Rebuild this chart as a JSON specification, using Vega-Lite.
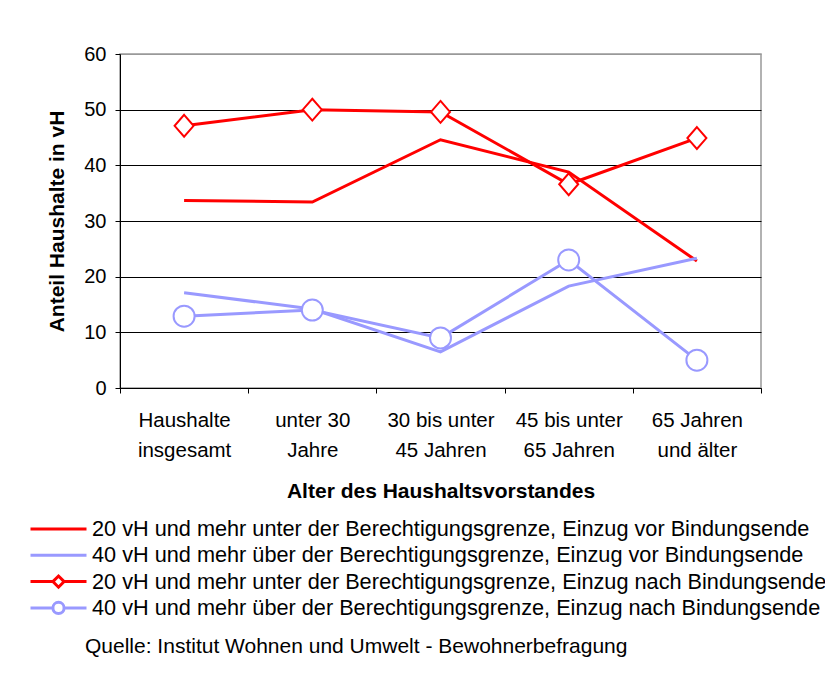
{
  "$schema": "https://vega.github.io/schema/vega-lite/v6.json",
  "width": 641,
  "height": 334,
  "autosize": {"type": "none"},
  "padding": {"left": 120, "top": 54, "right": 64, "bottom": 285},
  "background": "white",
  "config": {
    "font": "Liberation Sans",
    "view": {"stroke": "#999999", "strokeWidth": 1.5}
  },
  "title": {
    "text": "Quelle: Institut Wohnen und Umwelt - Bewohnerbefragung",
    "orient": "bottom",
    "anchor": "start",
    "frame": "group",
    "dx": -35,
    "offset": 16,
    "fontSize": 21,
    "fontWeight": "normal",
    "font": "Liberation Sans",
    "color": "black"
  },
  "data": {
    "values": [
      {"age": "Haushalte insgesamt", "series": "20 vH und mehr unter der Berechtigungsgrenze, Einzug vor Bindungsende", "value": 33.7},
      {"age": "unter 30 Jahre", "series": "20 vH und mehr unter der Berechtigungsgrenze, Einzug vor Bindungsende", "value": 33.4},
      {"age": "30 bis unter 45 Jahren", "series": "20 vH und mehr unter der Berechtigungsgrenze, Einzug vor Bindungsende", "value": 44.6},
      {"age": "45 bis unter 65 Jahren", "series": "20 vH und mehr unter der Berechtigungsgrenze, Einzug vor Bindungsende", "value": 38.8},
      {"age": "65 Jahren und älter", "series": "20 vH und mehr unter der Berechtigungsgrenze, Einzug vor Bindungsende", "value": 22.8},
      {"age": "Haushalte insgesamt", "series": "40 vH und mehr über der Berechtigungsgrenze, Einzug vor Bindungsende", "value": 17.1},
      {"age": "unter 30 Jahre", "series": "40 vH und mehr über der Berechtigungsgrenze, Einzug vor Bindungsende", "value": 14.2},
      {"age": "30 bis unter 45 Jahren", "series": "40 vH und mehr über der Berechtigungsgrenze, Einzug vor Bindungsende", "value": 6.5},
      {"age": "45 bis unter 65 Jahren", "series": "40 vH und mehr über der Berechtigungsgrenze, Einzug vor Bindungsende", "value": 18.3},
      {"age": "65 Jahren und älter", "series": "40 vH und mehr über der Berechtigungsgrenze, Einzug vor Bindungsende", "value": 23.3},
      {"age": "Haushalte insgesamt", "series": "20 vH und mehr unter der Berechtigungsgrenze, Einzug nach Bindungsende", "value": 47.1},
      {"age": "unter 30 Jahre", "series": "20 vH und mehr unter der Berechtigungsgrenze, Einzug nach Bindungsende", "value": 50.0},
      {"age": "30 bis unter 45 Jahren", "series": "20 vH und mehr unter der Berechtigungsgrenze, Einzug nach Bindungsende", "value": 49.6},
      {"age": "45 bis unter 65 Jahren", "series": "20 vH und mehr unter der Berechtigungsgrenze, Einzug nach Bindungsende", "value": 36.6},
      {"age": "65 Jahren und älter", "series": "20 vH und mehr unter der Berechtigungsgrenze, Einzug nach Bindungsende", "value": 44.9},
      {"age": "Haushalte insgesamt", "series": "40 vH und mehr über der Berechtigungsgrenze, Einzug nach Bindungsende", "value": 12.9},
      {"age": "unter 30 Jahre", "series": "40 vH und mehr über der Berechtigungsgrenze, Einzug nach Bindungsende", "value": 14.0},
      {"age": "30 bis unter 45 Jahren", "series": "40 vH und mehr über der Berechtigungsgrenze, Einzug nach Bindungsende", "value": 9.0},
      {"age": "45 bis unter 65 Jahren", "series": "40 vH und mehr über der Berechtigungsgrenze, Einzug nach Bindungsende", "value": 23.0},
      {"age": "65 Jahren und älter", "series": "40 vH und mehr über der Berechtigungsgrenze, Einzug nach Bindungsende", "value": 5.0}
    ]
  },
  "encoding": {
    "x": {
      "field": "age",
      "type": "nominal",
      "sort": ["Haushalte insgesamt", "unter 30 Jahre", "30 bis unter 45 Jahren", "45 bis unter 65 Jahren", "65 Jahren und älter"],
      "scale": {"type": "band", "paddingInner": 0, "paddingOuter": 0},
      "axis": {
        "title": "Alter des Haushaltsvorstandes",
        "titleFontSize": 21,
        "titleFontWeight": "bold",
        "titleColor": "black",
        "titlePadding": 20,
        "labelAngle": 0,
        "labelFontSize": 20.5,
        "labelColor": "black",
        "labelLineHeight": 30,
        "labelPadding": 17,
        "labelLimit": 0,
        "labelOverlap": false,
        "labelExpr": "datum.value == 'Haushalte insgesamt' ? ['Haushalte', 'insgesamt'] : datum.value == 'unter 30 Jahre' ? ['unter 30', 'Jahre'] : datum.value == '30 bis unter 45 Jahren' ? ['30 bis unter', '45 Jahren'] : datum.value == '45 bis unter 65 Jahren' ? ['45 bis unter', '65 Jahren'] : datum.value == '65 Jahren und älter' ? ['65 Jahren', 'und älter'] : ''",
        "tickBand": "extent",
        "tickSize": 5,
        "tickColor": "black",
        "domainColor": "black",
        "grid": false
      }
    },
    "y": {
      "field": "value",
      "type": "quantitative",
      "scale": {"domain": [0, 60], "nice": false},
      "axis": {
        "title": "Anteil Haushalte in vH",
        "titleFontSize": 21,
        "titleFontWeight": "bold",
        "titleColor": "black",
        "titlePadding": 16,
        "values": [0, 10, 20, 30, 40, 50, 60],
        "labelFontSize": 20,
        "labelColor": "black",
        "labelPadding": 9,
        "tickSize": 5,
        "tickColor": "black",
        "domainColor": "black",
        "grid": true,
        "gridColor": {"condition": {"test": "datum.value >= 60", "value": "#999999"}, "value": "black"},
        "gridWidth": 1
      }
    }
  },
  "layer": [
    {
      "mark": {"type": "line", "strokeWidth": 3},
      "encoding": {
        "color": {
          "field": "series",
          "type": "nominal",
          "scale": {
            "domain": [
              "20 vH und mehr unter der Berechtigungsgrenze, Einzug vor Bindungsende",
              "40 vH und mehr über der Berechtigungsgrenze, Einzug vor Bindungsende",
              "20 vH und mehr unter der Berechtigungsgrenze, Einzug nach Bindungsende",
              "40 vH und mehr über der Berechtigungsgrenze, Einzug nach Bindungsende"
            ],
            "range": ["#FF0000", "#9999FF", "#FF0000", "#9999FF"]
          },
          "legend": {
            "title": null,
            "orient": "none",
            "legendX": -91,
            "legendY": 463,
            "direction": "vertical",
            "clipHeight": 24,
            "rowPadding": 2.3,
            "symbolSize": 3136,
            "symbolStrokeWidth": 3,
            "symbolFillColor": "white",
            "labelFontSize": 21.7,
            "labelFont": "Liberation Sans",
            "labelColor": "black",
            "labelLimit": 1000,
            "labelOffset": 4,
            "encode": {"symbols": {"update": {"fill": {"value": "white"}, "strokeWidth": {"value": 3}}}}
          }
        }
      }
    },
    {
      "transform": [{"filter": "datum.series == '20 vH und mehr unter der Berechtigungsgrenze, Einzug nach Bindungsende'"}],
      "mark": {"type": "point", "shape": "M0,-1.15L1,0L0,1.15L-1,0Z", "size": 361, "filled": true, "fill": "white", "stroke": "#FF0000", "strokeWidth": 2, "opacity": 1}
    },
    {
      "transform": [{"filter": "datum.series == '40 vH und mehr über der Berechtigungsgrenze, Einzug nach Bindungsende'"}],
      "mark": {"type": "point", "shape": "circle", "size": 441, "filled": true, "fill": "white", "stroke": "#9999FF", "strokeWidth": 2, "opacity": 1}
    },
    {
      "data": {"values": []},
      "mark": {"type": "point", "filled": false, "strokeWidth": 3, "size": 3136},
      "encoding": {
        "color": {
          "field": "series",
          "type": "nominal",
          "legend": {
            "title": null,
            "orient": "none",
            "legendX": -91,
            "legendY": 463,
            "direction": "vertical",
            "clipHeight": 24,
            "rowPadding": 2.3,
            "symbolSize": 3136,
            "symbolStrokeWidth": 3,
            "symbolFillColor": "white",
            "labelFontSize": 21.7,
            "labelFont": "Liberation Sans",
            "labelColor": "black",
            "labelLimit": 1000,
            "labelOffset": 4,
            "encode": {"symbols": {"update": {"fill": {"value": "white"}, "strokeWidth": {"value": 3}}}}
          }
        },
        "shape": {
          "field": "series",
          "type": "nominal",
          "scale": {
            "domain": [
              "20 vH und mehr unter der Berechtigungsgrenze, Einzug vor Bindungsende",
              "40 vH und mehr über der Berechtigungsgrenze, Einzug vor Bindungsende",
              "20 vH und mehr unter der Berechtigungsgrenze, Einzug nach Bindungsende",
              "40 vH und mehr über der Berechtigungsgrenze, Einzug nach Bindungsende"
            ],
            "range": [
              "M-1,0H1",
              "M-1,0H1",
              "M-1,0H-0.2M0.2,0H1M0,-0.2L0.2,0L0,0.2L-0.2,0Z",
              "M-1,0H-0.2M0.2,0H1M-0.2,0A0.2,0.2,0,1,1,0.2,0A0.2,0.2,0,1,1,-0.2,0Z"
            ]
          },
          "legend": {
            "title": null,
            "orient": "none",
            "legendX": -91,
            "legendY": 463,
            "direction": "vertical",
            "clipHeight": 24,
            "rowPadding": 2.3,
            "symbolSize": 3136,
            "symbolStrokeWidth": 3,
            "symbolFillColor": "white",
            "labelFontSize": 21.7,
            "labelFont": "Liberation Sans",
            "labelColor": "black",
            "labelLimit": 1000,
            "labelOffset": 4,
            "encode": {"symbols": {"update": {"fill": {"value": "white"}, "strokeWidth": {"value": 3}}}}
          }
        }
      }
    }
  ]
}
